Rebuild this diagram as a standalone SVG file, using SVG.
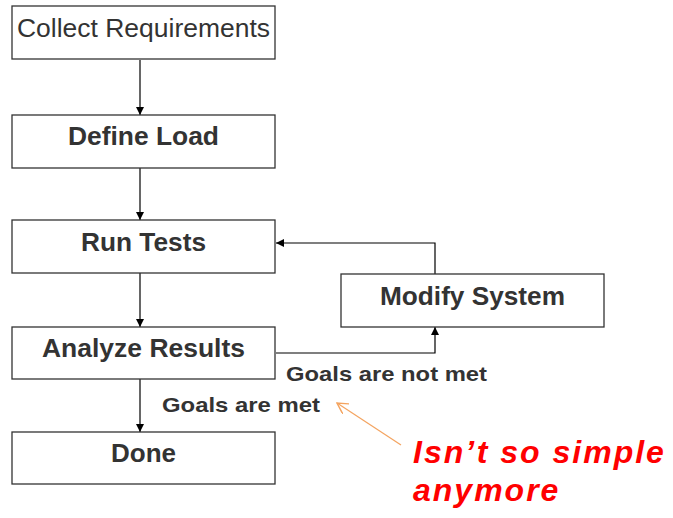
<svg xmlns="http://www.w3.org/2000/svg" width="673" height="518" viewBox="0 0 673 518">
<defs>
<style>
.box{fill:#fff;stroke:#333;stroke-width:1.3}
.t{font-family:"Liberation Sans",Arial,sans-serif;font-size:25px;fill:#333;text-anchor:middle}
.b{font-weight:bold}
.lbl{font-family:"Liberation Sans",Arial,sans-serif;font-size:21px;font-weight:bold;fill:#333}
.c{fill:none;stroke:#000;stroke-width:1.2}
.red{font-family:"Liberation Sans",Arial,sans-serif;font-style:italic;font-weight:bold;font-size:32px;letter-spacing:2px;fill:#ff0000}
</style>
<marker id="ah" viewBox="0 0 10 10" refX="10" refY="5" markerWidth="8" markerHeight="8" markerUnits="userSpaceOnUse" orient="auto"><path d="M0,0 L10,5 L0,10 z" fill="#000"/></marker>
<marker id="oa" viewBox="0 0 10 10" refX="9" refY="5" markerWidth="12" markerHeight="12" markerUnits="userSpaceOnUse" orient="auto"><path d="M0,0 L9,5 L0,10" fill="none" stroke="#f4a460" stroke-width="1.2"/></marker>
</defs>
<rect width="673" height="518" fill="#fff"/>
<g id="connectors">
<line class="c" x1="140" y1="60" x2="140" y2="115" marker-end="url(#ah)"/>
<line class="c" x1="140" y1="168" x2="140" y2="220" marker-end="url(#ah)"/>
<line class="c" x1="140" y1="273" x2="140" y2="327" marker-end="url(#ah)"/>
<line class="c" x1="140" y1="379" x2="140" y2="432" marker-end="url(#ah)"/>
<polyline class="c" points="276,353 435,353 435,327" marker-end="url(#ah)"/>
<polyline class="c" points="435,274 435,243 276,243" marker-end="url(#ah)"/>
<line x1="401" y1="445" x2="337" y2="403" stroke="#f4a460" stroke-width="1.2" marker-end="url(#oa)"/>
<text class="lbl" x="286" y="381" textLength="201" lengthAdjust="spacingAndGlyphs">Goals are not met</text>
<text class="lbl" x="162" y="412" textLength="158" lengthAdjust="spacingAndGlyphs">Goals are met</text>
</g>
<g id="collect"><rect class="box" x="12" y="6" width="263" height="53"/><text class="t" x="143.5" y="37" textLength="253" lengthAdjust="spacingAndGlyphs">Collect Requirements</text></g>
<g id="define"><rect class="box" x="12" y="115" width="263" height="53"/><text class="t b" x="143.5" y="145" textLength="151" lengthAdjust="spacingAndGlyphs">Define Load</text></g>
<g id="run"><rect class="box" x="12" y="220" width="263" height="53"/><text class="t b" x="143.5" y="251" textLength="125" lengthAdjust="spacingAndGlyphs">Run Tests</text></g>
<g id="modify"><rect class="box" x="341" y="274" width="263" height="53"/><text class="t b" x="472.5" y="305" textLength="185" lengthAdjust="spacingAndGlyphs">Modify System</text></g>
<g id="analyze"><rect class="box" x="12" y="327" width="263" height="52"/><text class="t b" x="143.5" y="357" textLength="203" lengthAdjust="spacingAndGlyphs">Analyze Results</text></g>
<g id="done"><rect class="box" x="12" y="432" width="263" height="52"/><text class="t b" x="143.5" y="462" textLength="65" lengthAdjust="spacingAndGlyphs">Done</text></g>
<g id="note">
<text class="red" x="413" y="463">Isn’t so simple</text>
<text class="red" x="413" y="501">anymore</text>
</g>
</svg>
